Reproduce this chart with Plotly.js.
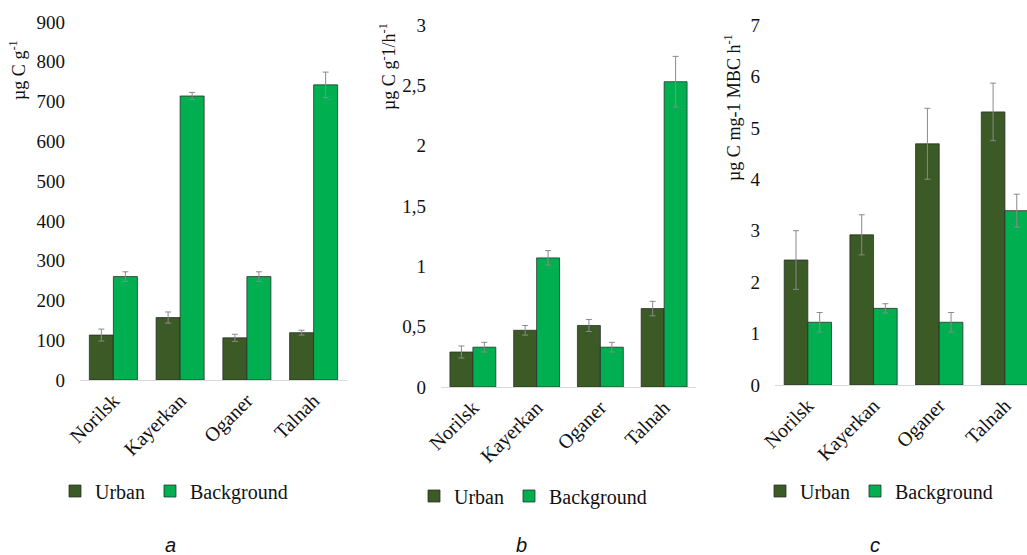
<!DOCTYPE html>
<html>
<head>
<meta charset="utf-8">
<script src="https://cdn.plot.ly/plotly-3.0.1.min.js"></script>
<style>html,body{margin:0;padding:0;overflow:hidden;background:#fff;}</style>
</head>
<body>
<div id="chart" style="width:1027px;height:555px;"></div>
<script>
// ---- data ----
const towns = ["Norilsk", "Kayerkan", "Oganer", "Talnah"];
const seriesNames = ["Urban", "Background"];

const aUrban = [113, 157, 106, 119];
const aUrbanErr = [15, 14, 9, 6];
const aBackground = [260, 714, 260, 742];
const aBackgroundErr = [12, 9, 12, 32];

const bUrban = [0.29, 0.47, 0.51, 0.65];
const bUrbanErr = [0.05, 0.04, 0.05, 0.06];
const bBackground = [0.33, 1.07, 0.33, 2.53];
const bBackgroundErr = [0.04, 0.06, 0.04, 0.21];

const cUrban = [2.43, 2.92, 4.69, 5.31];
const cUrbanErr = [0.57, 0.39, 0.69, 0.56];
const cBackground = [1.22, 1.49, 1.22, 3.39];
const cBackgroundErr = [0.19, 0.09, 0.19, 0.32];

const aTicks = [0, 100, 200, 300, 400, 500, 600, 700, 800, 900];
const bTicks = [0, 0.5, 1, 1.5, 2, 2.5, 3];
const bTickText = ["0", "0,5", "1", "1,5", "2", "2,5", "3"];
const cTicks = [0, 1, 2, 3, 4, 5, 6, 7];

const yTitles = ["µg C g<sup>-1</sup>", "µg C g<sup>-</sup>1/h<sup>-1</sup>", "µg C mg-1 MBC h<sup>-1</sup>"];
const panelLetters = ["a", "b", "c"];

// ---- style ----
const W = 1027, H = 555;
const urbanColor = "#3b5a26";
const bgColor = "#00b050";
const serif = "Liberation Serif, Times New Roman, serif";
const px = v => v / W;
const py = v => 1 - v / H;

function bar(name, y, err, color, xa, ya, leg) {
  return {
    type: "bar", name: name, x: towns, y: y,
    xaxis: xa, yaxis: ya, legend: leg, showlegend: true,
    marker: {color: color, line: {color: "rgba(40,40,40,0.75)", width: 1}},
    error_y: {type: "data", array: err, visible: true, color: "#8a8a8a", thickness: 1, width: 3},
    hoverinfo: "x+y"
  };
}

const data = [
  bar(seriesNames[0], aUrban, aUrbanErr, urbanColor, "x", "y", "legend"),
  bar(seriesNames[1], aBackground, aBackgroundErr, bgColor, "x", "y", "legend"),
  bar(seriesNames[0], bUrban, bUrbanErr, urbanColor, "x2", "y2", "legend2"),
  bar(seriesNames[1], bBackground, bBackgroundErr, bgColor, "x2", "y2", "legend2"),
  bar(seriesNames[0], cUrban, cUrbanErr, urbanColor, "x3", "y3", "legend3"),
  bar(seriesNames[1], cBackground, cBackgroundErr, bgColor, "x3", "y3", "legend3")
];

function xaxis(domain, anchor, range) {
  return {
    domain: domain, anchor: anchor, type: "category", range: range,
    showline: true, linecolor: "#d9d9d9", linewidth: 1,
    showgrid: false, zeroline: false, ticks: "",
    tickangle: -45, tickfont: {family: serif, size: 20, color: "#111"}
  };
}
function yaxis(domain, anchor, range, tickvals, ticktext) {
  const ax = {
    domain: domain, anchor: anchor, range: range,
    showline: false, showgrid: false, zeroline: false, ticks: "",
    tickvals: tickvals, ticklabelstandoff: 14,
    tickfont: {family: serif, size: 19, color: "#111"}
  };
  if (ticktext) ax.ticktext = ticktext;
  return ax;
}
function legend(x, y) {
  return {
    orientation: "h", x: x, y: y, xanchor: "left", yanchor: "middle",
    font: {family: serif, size: 20, color: "#111"},
    bgcolor: "rgba(0,0,0,0)", itemwidth: 30, tracegroupgap: 0
  };
}

const annotations = [
  {text: yTitles[0], x: px(17), y: py(70)},
  {text: yTitles[1], x: px(387), y: py(67)},
  {text: yTitles[2], x: px(732), y: py(108)}
].map(a => Object.assign(a, {
  xref: "paper", yref: "paper", showarrow: false, textangle: -90,
  xanchor: "center", yanchor: "middle",
  font: {family: serif, size: 18, color: "#111"}
}));
[[170, panelLetters[0]], [521, panelLetters[1]], [875, panelLetters[2]]].forEach(([x, t]) => {
  annotations.push({
    text: t, x: px(x), y: py(545), xref: "paper", yref: "paper", showarrow: false,
    xanchor: "center", yanchor: "middle",
    font: {family: "Liberation Sans", size: 20, color: "#111", style: "italic"}
  });
});

const layout = {
  width: W, height: H,
  margin: {l: 0, r: 0, t: 0, b: 0},
  paper_bgcolor: "#fff", plot_bgcolor: "#fff",
  barmode: "group", bargap: 0.28, bargroupgap: 0,
  xaxis: xaxis([px(80), px(347)], "y", [-0.5, 3.5]),
  yaxis: yaxis([1 - 380 / H, 1 - 22 / H], "x", [0, 900], aTicks),
  xaxis2: xaxis([px(441), px(696)], "y2", [-0.5, 3.5]),
  yaxis2: yaxis([1 - 387 / H, 1 - 25 / H], "x2", [0, 3], bTicks, bTickText),
  xaxis3: xaxis([px(775), 1], "y3", [-0.5, 3.336]),
  yaxis3: yaxis([1 - 385 / H, 1 - 25 / H], "x3", [0, 7], cTicks),
  legend: legend(px(55), py(491)),
  legend2: legend(px(414), py(496)),
  legend3: legend(px(760), py(491)),
  annotations: annotations
};

Plotly.newPlot("chart", data, layout, {staticPlot: true, displayModeBar: false});
</script>
</body>
</html>
